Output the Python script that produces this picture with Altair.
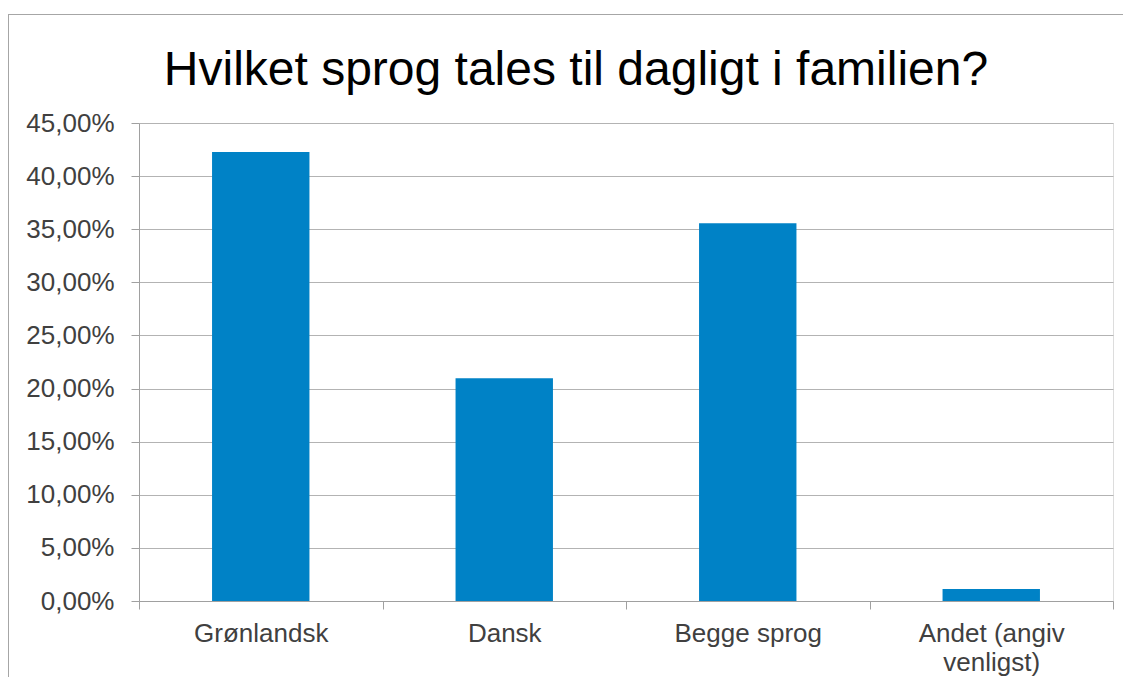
import altair as alt
import pandas as pd

categories = ["Grønlandsk", "Dansk", "Begge sprog", "Andet (angiv\nvenligst)"]
values = [0.4227, 0.2097, 0.3556, 0.0113]
y_ticks = [0.0, 0.05, 0.10, 0.15, 0.20, 0.25, 0.30, 0.35, 0.40, 0.45]

df = pd.DataFrame({"sprog": categories, "andel": values})

FONT = "Liberation Sans"
AXIS_GREY = "#a0a0a0"

bars = alt.Chart(df).mark_bar(
    color="#0082C6", width=alt.RelativeBandSize(0.4)
).encode(
    x=alt.X(
        "sprog:N",
        sort=categories,
        scale=alt.Scale(paddingInner=0, paddingOuter=0),
        axis=alt.Axis(
            title=None,
            labelAngle=0,
            labelFont=FONT,
            labelFontSize=26,
            labelColor="#404040",
            labelPadding=11,
            labelLineHeight=29,
            labelExpr="split(datum.label, '\\n')",
            tickBand="extent",
            tickSize=8,
            tickColor=AXIS_GREY,
            domainColor=AXIS_GREY,
            grid=False,
        ),
    ),
    y=alt.Y(
        "andel:Q",
        scale=alt.Scale(domain=[0, 0.45], nice=False),
        axis=alt.Axis(
            title=None,
            values=y_ticks,
            labelExpr="replace(format(datum.value, '.2%'), '.', ',')",
            labelFont=FONT,
            labelFontSize=26,
            labelColor="#404040",
            labelPadding=17,
            tickSize=8,
            tickColor=AXIS_GREY,
            domainColor=AXIS_GREY,
            grid=True,
            gridColor="#b3b3b3",
        ),
    ),
)

frame = alt.Chart(df).mark_rect(
    fill=None, stroke="#a6a6a6", strokeWidth=1
).encode(
    x=alt.value(-130.5),
    x2=alt.value(1100),
    y=alt.value(-108.5),
    y2=alt.value(700),
)

chart = alt.layer(frame, bars).properties(
    width=974,
    height=478,
    title=alt.TitleParams(
        "Hvilket sprog tales til dagligt i familien?",
        font=FONT,
        fontSize=48,
        fontWeight="normal",
        color="#000000",
        anchor="middle",
        frame="group",
        dx=-50,
        baseline="alphabetic",
        offset=-119,
    ),
    autosize=alt.AutoSizeParams(type="none"),
    padding={"left": 131, "top": 115, "right": 10, "bottom": 76},
).configure_view(stroke=None).configure(background="white")

chart.save("out.html", embed_options={"renderer": "svg", "actions": False})
